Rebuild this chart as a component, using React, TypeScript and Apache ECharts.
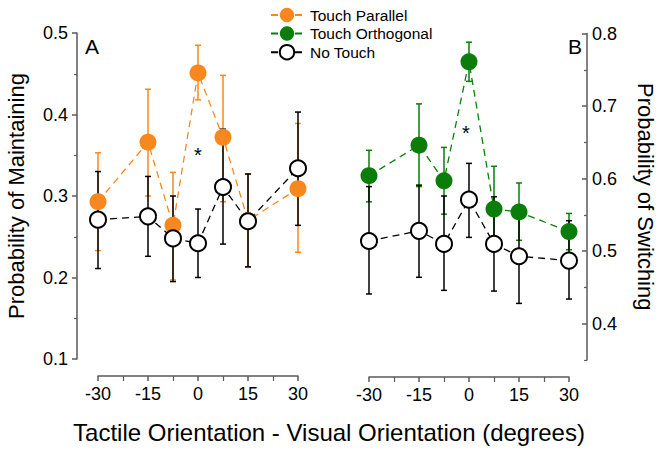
import React, { useEffect, useRef } from "react";
import * as echarts from "echarts";

const xValues = [-30, -15, -7.5, 0, 7.5, 15, 30];
const xTicks = [-30, -15, 0, 15, 30];

const parallelMean = [0.293, 0.366, 0.264, 0.451, 0.372, 0.27, 0.309];
const parallelLow = [0.233, 0.3, 0.197, 0.418, 0.293, 0.213, 0.231];
const parallelHigh = [0.353, 0.431, 0.329, 0.485, 0.448, 0.327, 0.389];

const noTouchAMean = [0.271, 0.275, 0.248, 0.242, 0.311, 0.269, 0.334];
const noTouchALow = [0.211, 0.226, 0.195, 0.2, 0.241, 0.213, 0.264];
const noTouchAHigh = [0.33, 0.324, 0.3, 0.284, 0.382, 0.327, 0.403];

const orthoMean = [0.604, 0.646, 0.597, 0.761, 0.558, 0.554, 0.527];
const orthoLow = [0.568, 0.589, 0.551, 0.734, 0.5, 0.515, 0.502];
const orthoHigh = [0.639, 0.703, 0.643, 0.788, 0.617, 0.594, 0.552];

const noTouchBMean = [0.514, 0.528, 0.51, 0.571, 0.51, 0.493, 0.487];
const noTouchBLow = [0.441, 0.464, 0.446, 0.519, 0.445, 0.428, 0.434];
const noTouchBHigh = [0.589, 0.591, 0.576, 0.621, 0.575, 0.558, 0.542];

const leftYTicks = [0.1, 0.2, 0.3, 0.4, 0.5];
const rightYTicks = [0.4, 0.5, 0.6, 0.7, 0.8];
const rightYMinorTicks = [0.35, 0.45, 0.55, 0.65, 0.75];

const ORANGE = "#F7881F";
const GREEN = "#0B7D0B";
const AXIS = "#5a5a5a";
const FONT = "Liberation Sans, Arial, sans-serif";

function errorSeries(name: string, color: string, lo: number[], hi: number[], gi: number, yi: number) {
  return {
    type: "custom",
    name: name + " error",
    xAxisIndex: gi,
    yAxisIndex: yi,
    silent: true,
    encode: { x: 0, y: [1, 2] },
    data: xValues.map((x, i) => [x, lo[i], hi[i]]),
    renderItem: (params: any, api: any) => {
      const x = api.value(0);
      const a = api.coord([x, api.value(2)]);
      const b = api.coord([x, api.value(1)]);
      const w = 3;
      const style = { stroke: color, lineWidth: 1.5 };
      return {
        type: "group",
        children: [
          { type: "line", shape: { x1: a[0], y1: a[1], x2: b[0], y2: b[1] }, style },
          { type: "line", shape: { x1: a[0] - w, y1: a[1], x2: a[0] + w, y2: a[1] }, style },
          { type: "line", shape: { x1: b[0] - w, y1: b[1], x2: b[0] + w, y2: b[1] }, style },
        ],
      };
    },
  };
}

function lineSeries(name: string, color: string, mean: number[], gi: number, yi: number, open: boolean) {
  return {
    type: "line",
    name,
    xAxisIndex: gi,
    yAxisIndex: yi,
    data: xValues.map((x, i) => [x, mean[i]]),
    symbol: "circle",
    symbolSize: open ? 16 : 17,
    itemStyle: open
      ? { color: "#ffffff", borderColor: "#000000", borderWidth: 2 }
      : { color, borderColor: color, borderWidth: 0 },
    lineStyle: { color: open ? "#000000" : color, width: 1.3, type: [7, 5] },
    emphasis: { disabled: true },
  };
}

const xAxisBase = (gi: number) => ({
  type: "value",
  gridIndex: gi,
  min: -30,
  max: 30,
  interval: 15,
  offset: 17,
  axisLine: { onZero: false, lineStyle: { color: AXIS, width: 1.5 } },
  axisTick: { length: 5, lineStyle: { color: AXIS, width: 1.5 } },
  minorTick: { show: true, splitNumber: 2, length: 5, lineStyle: { color: AXIS, width: 1.2 } },
  splitLine: { show: false },
  axisLabel: {
    color: "#000",
    fontSize: 18,
    fontFamily: FONT,
    margin: 9,
    customValues: xTicks,
    formatter: (v: number) => String(v),
  },
});

export default function App() {
  const ref = useRef<HTMLDivElement>(null);
  useEffect(() => {
    document.body.style.margin = "0";
    const chart = echarts.init(ref.current!, undefined, { renderer: "svg" });
    chart.setOption({
      animation: false,
      grid: [
        { left: 98, top: 33, width: 200, height: 326, outerBoundsMode: "none" },
        { left: 369, top: 33.5, width: 200, height: 326.5, outerBoundsMode: "none" },
      ],
      xAxis: [xAxisBase(0), xAxisBase(1)],
      yAxis: [
        {
          type: "value",
          gridIndex: 0,
          min: 0.1,
          max: 0.5,
          interval: 0.1,
          offset: 21,
          name: "Probability of Maintaining",
          nameLocation: "middle",
          nameGap: 50,
          nameTextStyle: { color: "#000", fontSize: 22, fontFamily: FONT },
          axisLine: { show: true, onZero: false, lineStyle: { color: AXIS, width: 1.5 } },
          axisTick: { show: true, length: 5, lineStyle: { color: AXIS, width: 1.5 } },
          minorTick: { show: true, splitNumber: 2, length: 3, lineStyle: { color: AXIS, width: 1.2 } },
          splitLine: { show: false },
          axisLabel: {
            color: "#000",
            fontSize: 18,
            fontFamily: FONT,
            margin: 9,
            customValues: leftYTicks,
            formatter: (v: number) => v.toFixed(1),
          },
        },
        {
          type: "value",
          gridIndex: 1,
          position: "right",
          min: 0.35,
          max: 0.8,
          offset: 18,
          name: "Probability of Switching",
          nameLocation: "middle",
          nameRotate: -90,
          nameGap: 47,
          nameTextStyle: { color: "#000", fontSize: 22, fontFamily: FONT },
          axisLine: { show: true, onZero: false, lineStyle: { color: AXIS, width: 1.5 } },
          axisTick: {
            show: true,
            inside: true,
            length: 5,
            customValues: rightYTicks,
            lineStyle: { color: AXIS, width: 1.5 },
          },
          splitLine: { show: false },
          axisLabel: {
            color: "#000",
            fontSize: 18,
            fontFamily: FONT,
            margin: 5,
            customValues: rightYTicks,
            formatter: (v: number) => v.toFixed(1),
          },
        },
        {
          type: "value",
          gridIndex: 1,
          position: "right",
          min: 0.35,
          max: 0.8,
          offset: 18,
          axisLine: { show: false, onZero: false },
          axisTick: {
            show: true,
            inside: true,
            length: 3,
            customValues: rightYMinorTicks,
            lineStyle: { color: AXIS, width: 1.2 },
          },
          splitLine: { show: false },
          axisLabel: { show: false },
        },
      ],
      legend: {
        orient: "vertical",
        left: 265,
        top: 2,
        itemWidth: 32,
        itemHeight: 18,
        itemGap: 2.5,
        data: ["Touch Parallel", "Touch Orthogonal", "No Touch"],
        textStyle: { color: "#000", fontSize: 15.5, fontFamily: FONT, padding: [0, 0, 0, 2] },
        selectedMode: false,
      },
      graphic: [
        { type: "text", left: 85, top: 36, style: { text: "A", fontSize: 21, fontFamily: FONT, fill: "#000" } },
        { type: "text", left: 568, top: 36, style: { text: "B", fontSize: 21, fontFamily: FONT, fill: "#000" } },
        {
          type: "text",
          x: 198,
          y: 155,
          style: { text: "*", fontSize: 20, fontFamily: FONT, fill: "#000", align: "center", verticalAlign: "middle" },
        },
        {
          type: "text",
          x: 466,
          y: 133,
          style: { text: "*", fontSize: 20, fontFamily: FONT, fill: "#000", align: "center", verticalAlign: "middle" },
        },
        {
          type: "text",
          x: 329,
          y: 432,
          style: {
            text: "Tactile Orientation - Visual Orientation (degrees)",
            fontSize: 24,
            fontFamily: FONT,
            fill: "#000",
            align: "center",
            verticalAlign: "middle",
          },
        },
      ],
      series: [
        errorSeries("Touch Parallel", ORANGE, parallelLow, parallelHigh, 0, 0),
        lineSeries("Touch Parallel", ORANGE, parallelMean, 0, 0, false),
        errorSeries("No Touch", "#000", noTouchALow, noTouchAHigh, 0, 0),
        lineSeries("No Touch", "#000", noTouchAMean, 0, 0, true),
        errorSeries("Touch Orthogonal", GREEN, orthoLow, orthoHigh, 1, 1),
        lineSeries("Touch Orthogonal", GREEN, orthoMean, 1, 1, false),
        errorSeries("No Touch", "#000", noTouchBLow, noTouchBHigh, 1, 1),
        lineSeries("No Touch", "#000", noTouchBMean, 1, 1, true),
      ],
    });
    return () => chart.dispose();
  }, []);
  return <div ref={ref} style={{ width: 662, height: 450 }} />;
}
